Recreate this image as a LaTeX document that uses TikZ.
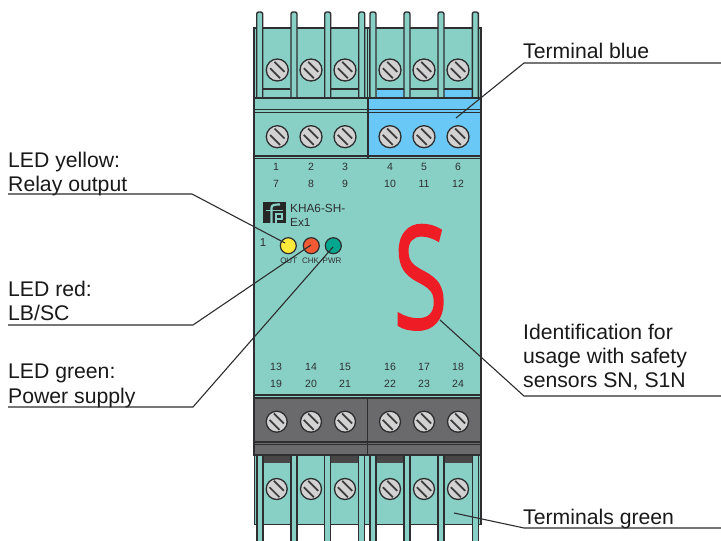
\documentclass[tikz,border=0pt]{standalone}
\usepackage{fontspec}
\setmainfont{Liberation Sans}
\newfontfamily\sfont[FakeBold=1.6]{Open Sans}
\definecolor{teal}{HTML}{88D0C5}
\definecolor{bluet}{HTML}{69C8F5}
\definecolor{grayt}{HTML}{6A6A6D}
\definecolor{ink}{HTML}{2E2E30}
\definecolor{screwc}{HTML}{D2D2D2}
\definecolor{slotd}{HTML}{3C3C3E}
\definecolor{ledy}{HTML}{FFE93B}
\definecolor{ledr}{HTML}{F15A32}
\definecolor{ledg}{HTML}{00A78E}
\definecolor{sred}{HTML}{EE1C25}
\tikzset{
  x=1pt,y=-1pt,
  outline/.style={draw=ink,line width=1.3pt},
  pinbar/.style={draw=ink,line width=1.4pt},
  leader/.style={draw=ink,line width=1.1pt},
  lab/.style={anchor=base west,inner sep=0pt,font=\fontsize{21.2}{22}\selectfont,text=black!90},
  num/.style={inner sep=0pt,font=\fontsize{10.5}{12}\selectfont,text=ink},
  tiny/.style={inner sep=0pt,font=\fontsize{8}{9}\selectfont,text=ink},
  ledn/.style={circle,draw=ink,line width=1.2pt,minimum size=16pt,inner sep=0pt},
}
\newcommand{\screw}[3]{%
  \node[circle,draw=ink,fill=screwc,line width=1.3pt,minimum size=#3pt,inner sep=0pt] (#1) at (#2) {};
  \draw[slotd,line width=1.7pt] ([xshift=-7.2pt,yshift=1.8pt]#1.center) -- ([xshift=2.8pt,yshift=-8.2pt]#1.center);
  \draw[slotd,line width=1.7pt] ([xshift=-2.8pt,yshift=8.2pt]#1.center) -- ([xshift=7.2pt,yshift=-1.8pt]#1.center);
}
\begin{document}
\begin{tikzpicture}
\useasboundingbox (0,0) rectangle (721,541);
\fill[white] (0,0) rectangle (721,541);
% upper terminal block
\draw[outline,fill=teal] (254,28) rectangle (481,98);
\draw[draw=ink,line width=1pt] (367,28) -- (367,98) (369,28) -- (369,98);
% upper slots
\foreach \a/\b/\c/\t in {263/290/teal/1,297/325/teal/0,331/358/teal/1,377/404/bluet/1,410/438/teal/1,444/472/bluet/1}{
  \fill[\c] (\a,89) rectangle (\b,98);
  \ifnum\t=1 \draw[ink,line width=1.2pt] (\a,89) -- (\b,89);\fi
}
% top pins
\foreach \p in {259.7,294,327.7,361.7,373,407,441,475.3}{
  \fill[teal,rounded corners=2pt] (\p-3,98) -- (\p-3,12) -- (\p+3,12) -- (\p+3,98);
  \draw[pinbar,rounded corners=2pt] (\p-3,98) -- (\p-3,12) -- (\p+3,12) -- (\p+3,98);
}
% lower upper-terminal
\draw[outline,fill=teal] (254,98) rectangle (368,156);
\draw[outline,fill=bluet] (368,98) rectangle (481,156);
\draw[ink,line width=1.1pt] (254,109.5) -- (481,109.5) (254,112.5) -- (481,112.5);
\draw[ink,line width=1.8pt] (254,98) -- (254,156);
% main body
\draw[outline,fill=teal] (254,156) rectangle (481,398);
\draw[ink,line width=1.1pt] (254,158.5) -- (481,158.5) (254,395) -- (481,395);
\draw[ink,line width=1.8pt] (368,98) -- (368,158);
% lower terminal, body
\draw[outline,fill=teal] (254.5,455) rectangle (481,524.5);
\foreach \a/\b in {263/291,331/359,377/404,444/472}{
  \fill[black!72] (\a,455) rectangle (\b,463);
}
% bottom pins
\foreach \p in {260,294,327.7,361.7,373,407,441,475.3}{
  \fill[teal] (\p-3,455) rectangle (\p+3,541);
  \draw[pinbar] (\p-3,455) -- (\p-3,541) (\p+3,455) -- (\p+3,541);
}
% grey block
\draw[outline,fill=grayt] (254,398) rectangle (367.7,455);
\draw[outline,fill=grayt] (367.7,398) rectangle (481,455);
\draw[ink,line width=1.1pt] (254,442) -- (481,442) (254,444.5) -- (481,444.5);
% screws
\screw{s1}{277.3,70}{22}\screw{s2}{311,70}{22}\screw{s3}{345,70}{22}
\screw{s4}{390,70}{22}\screw{s5}{424,70}{22}\screw{s6}{458,70}{22}
\screw{m1}{277.3,136.7}{22}\screw{m2}{311,136.7}{22}\screw{m3}{345,136.7}{22}
\screw{m4}{390,136.7}{22}\screw{m5}{424,136.7}{22}\screw{m6}{458,136.7}{22}
\screw{g1}{276.7,421.7}{21}\screw{g2}{311,421.7}{21}\screw{g3}{345,421.7}{21}
\screw{g4}{390,421.7}{21}\screw{g5}{424,421.7}{21}\screw{g6}{458,421.7}{21}
\screw{b1}{276.7,489}{21}\screw{b2}{311,489}{21}\screw{b3}{345,489}{21}
\screw{b4}{390,489}{21}\screw{b5}{424,489}{21}\screw{b6}{458,489}{21}
% numbers
\foreach \x/\u/\v/\w/\z in {276/1/7/13/19,311/2/8/14/20,345/3/9/15/21,390/4/10/16/22,424/5/11/17/23,458/6/12/18/24}{
  \node[num] at (\x,167) {\u};
  \node[num] at (\x,184) {\v};
  \node[num] at (\x,367) {\w};
  \node[num] at (\x,384) {\z};
}
% logo
\fill[black!85] (263,201.7) rectangle (285.7,223);
\draw[teal,line width=2.2pt] (271.5,223) -- (271.5,208) .. controls (271.5,205) and (274,204.5) .. (280,204.5);
\draw[teal,line width=1.6pt] (266,210.5) -- (283,210.5);
\draw[teal,line width=2pt] (276,223) -- (276,214) -- (282.3,214) -- (282.3,219) -- (276,219);
\node[inner sep=0pt,anchor=base west,text=ink,font=\fontsize{11.8}{14}\selectfont] (kha) at (290,212) {KHA6-SH-};
\node[inner sep=0pt,anchor=base west,text=ink,font=\fontsize{11.8}{14}\selectfont] (kha2) at (290,226) {Ex1};
\node[num,font=\fontsize{11.5}{12}\selectfont] (one) at (263,243) {1};
% S mark
\node[inner sep=0pt,text=sred,xscale=0.69,font=\sfont\fontsize{143}{143}\selectfont] (smark) at (420.5,277.3) {S};
% LEDs
\node[ledn,fill=ledy] (ly) at (288.3,245.7) {};
\node[ledn,fill=ledr] (lr) at (311.3,245.7) {};
\node[ledn,fill=ledg] (lg) at (333.3,245.7) {};
\node[tiny] at (288.7,260.7) {OUT};
\node[tiny] at (310.5,260.7) {CHK};
\node[tiny] at (332,260.7) {PWR};
% labels
\node[lab] (t1) at (8,167) {LED yellow:};
\node[lab] (t2) at (8,191) {Relay output};
\node[lab] (t3) at (8,296) {LED red:};
\node[lab] (t4) at (8,320) {LB/SC};
\node[lab] (t5) at (8,378) {LED green:};
\node[lab] (t6) at (8,403) {Power supply};
\node[lab] (t7) at (523,58) {Terminal blue};
\node[lab] (t8) at (523,339) {Identification for};
\node[lab] (t9) at (523,363) {usage with safety};
\node[lab] (t10) at (523,387) {sensors SN, S1N};
\node[lab] (t11) at (523,524) {Terminals green};
% leaders
\coordinate (a1) at (8,194);   \coordinate (k1) at (192,194);  \coordinate (e1) at (285,243);
\coordinate (a2) at (8,325);   \coordinate (k2) at (193,325);  \coordinate (e2) at (311,245);
\coordinate (a3) at (8,407);   \coordinate (k3) at (193,407);  \coordinate (e3) at (333,247);
\coordinate (a4) at (721,63);  \coordinate (k4) at (524,63);   \coordinate (e4) at (456,118);
\coordinate (a5) at (721,396); \coordinate (k5) at (524,396);  \coordinate (e5) at (440,320);
\coordinate (a6) at (721,528); \coordinate (k6) at (524,528);  \coordinate (e6) at (454,513);
\draw[leader] (a1) -- (k1) -- (e1);
\draw[leader] (a2) -- (k2) -- (e2);
\draw[leader] (a3) -- (k3) -- (e3);
\draw[leader] (a4) -- (k4) -- (e4);
\draw[leader] (a5) -- (k5) -- (e5);
\draw[leader] (a6) -- (k6) -- (e6);
\end{tikzpicture}
\end{document}
